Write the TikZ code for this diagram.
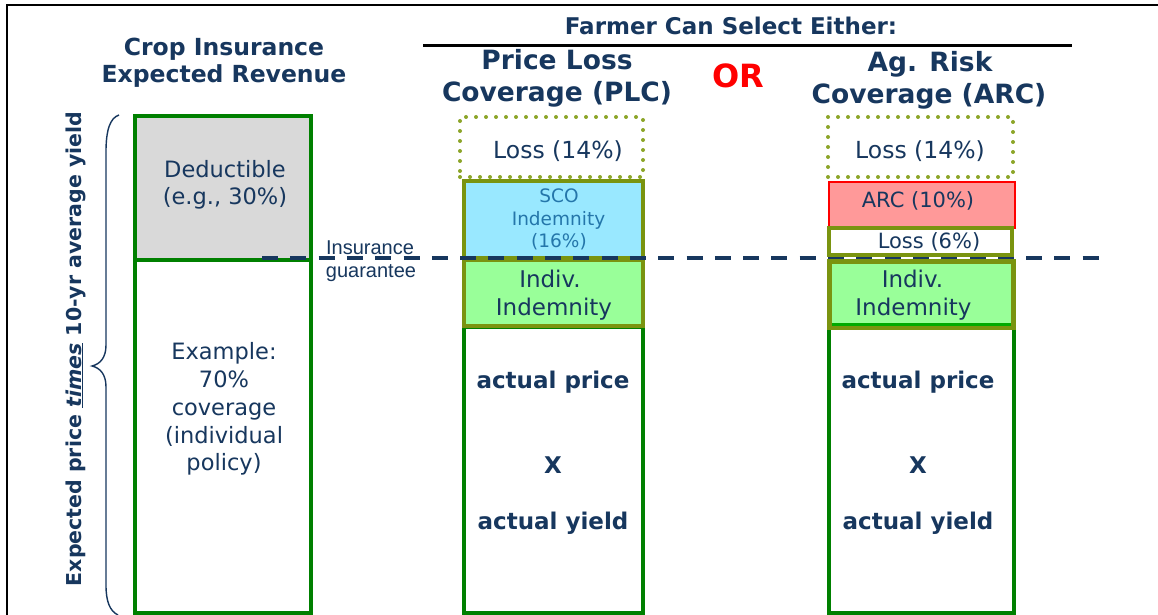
\documentclass[tikz,border=0pt]{standalone}
\usepackage{fontspec}
\setmainfont{DejaVu Sans}
\newfontfamily\arialf{Liberation Sans}
\newcommand\myfs[1]{\fontsize{#1}{#1}\selectfont}
\definecolor{dkblue}{RGB}{23,55,94}
\definecolor{boxgreen}{RGB}{0,128,0}
\definecolor{olivec}{RGB}{122,148,16}
\definecolor{dotc}{RGB}{140,165,40}
\definecolor{scofill}{RGB}{153,232,255}
\definecolor{scotext}{RGB}{36,118,170}
\definecolor{indivfill}{RGB}{153,255,153}
\definecolor{arcfill}{RGB}{255,153,153}
\definecolor{grayfill}{RGB}{217,217,217}
\definecolor{brightgreen}{RGB}{0,170,0}
\begin{document}
\begin{tikzpicture}[x=1pt,y=-1pt,
  txt/.style={text=dkblue, inner sep=0pt, anchor=base},
  boxbase/.style={rectangle, inner sep=0pt, outer sep=0pt, anchor=north west},
  greenbox/.style={boxbase, draw=boxgreen, line width=3.5pt},
  dotbox/.style={boxbase, draw=dotc, line width=4pt, line cap=round, dash pattern=on 0pt off 10pt},
  olivebox/.style={boxbase, draw=olivec, line width=4pt},
  wh/.style 2 args={minimum width=#1, minimum height=#2},
]
\useasboundingbox (0,0) rectangle (1158,615);
\fill[white] (0,0) rectangle (1158,615);
% frame
\coordinate (fTL) at (7,5);
\coordinate (fTR) at (1158,5);
\coordinate (fBL) at (7,615);
\draw[black, line width=2.5pt] (fBL) -- (fTL) -- (fTR);

% titles
\node[txt, font=\myfs{23.5}\bfseries] (ci1) at (224,56) {Crop Insurance};
\node[txt, font=\myfs{23.5}\bfseries] (ci2) at (224,83) {Expected Revenue};
\node[txt, font=\myfs{23}\bfseries] (far) at (731,35) {Farmer Can Select Either:};
\coordinate (ulA) at (423,45.5);
\coordinate (ulB) at (1072,45.5);
\draw[black, line width=2.5pt] (ulA) -- (ulB);
\node[txt, font=\myfs{26.5}\bfseries] (plc1) at (557,70) {Price Loss};
\node[txt, font=\myfs{26.5}\bfseries] (plc2) at (557,102) {Coverage (PLC)};
\node[txt, font=\myfs{32}\bfseries, text=red] (or) at (738,88) {OR};
\node[txt, font=\myfs{26.5}\bfseries] (arc1) at (930,72) {Ag. Risk};
\node[txt, font=\myfs{26.5}\bfseries] (arc2) at (929,104) {Coverage (ARC)};

% brace and rotated label
\draw[dkblue, line width=1.4pt] (119,115) .. controls (110,118) and (106,130) .. (106,152)
  -- (106,345) .. controls (106,358) and (100,364) .. (92,366)
  .. controls (100,368) and (106,374) .. (106,387)
  -- (106,585) .. controls (106,602) and (110,611) .. (118,615);
\node[txt, font=\myfs{20.5}\bfseries, rotate=90] (ylab) at (81,349)
  {Expected price \underline{\textit{times}} 10-yr average yield};

% left column
\node[greenbox, fill=grayfill, wh={176pt}{143.5pt}] (ded) at (135,116) {};
\node[greenbox, line width=4pt, wh={176pt}{353.5pt}] (cov) at (135,259.5) {};
\node[txt, font=\myfs{22.5}] (d1) at (225,177) {Deductible};
\node[txt, font=\myfs{22.5}] (d2) at (225,204) {(e.g., 30\%)};
\node[txt, font=\myfs{22.5}] (e1) at (224,359) {Example:};
\node[txt, font=\myfs{22.5}] (e2) at (224,387) {70\%};
\node[txt, font=\myfs{22.5}] (e3) at (224,415) {coverage};
\node[txt, font=\myfs{22.5}] (e4) at (224,443) {(individual};
\node[txt, font=\myfs{22.5}] (e5) at (224,470) {policy)};
\node[txt, font=\arialf\myfs{20}] (ig1) at (370,254) {Insurance};
\node[txt, font=\arialf\myfs{20}] (ig2) at (371,277) {guarantee};

% PLC column
\node[greenbox, wh={179pt}{286pt}] (plclow) at (464,327) {};
\node[dotbox, wh={183pt}{60pt}] (plcloss) at (460,117) {};
\node[olivebox, fill=scofill, wh={179pt}{77pt}] (sco) at (464,181) {};
\node[olivebox, fill=indivfill, wh={179pt}{66pt}] (plcind) at (464,260) {};
\node[txt, font=\myfs{23.5}] (pl1) at (558,158) {Loss (14\%)};
\node[txt, font=\myfs{18.5}, text=scotext] (s1) at (559,202) {SCO};
\node[txt, font=\myfs{18.5}, text=scotext] (s2) at (558.5,225) {Indemnity};
\node[txt, font=\myfs{18.5}, text=scotext] (s3) at (559,247) {(16\%)};
\node[txt, font=\myfs{23}] (pi1) at (550,287) {Indiv.};
\node[txt, font=\myfs{23}] (pi2) at (554,315) {Indemnity};
\node[txt, font=\myfs{23}\bfseries] (pa1) at (553,388) {actual price};
\node[txt, font=\myfs{23}\bfseries] (pa2) at (553,473) {X};
\node[txt, font=\myfs{23}\bfseries] (pa3) at (553,529) {actual yield};

% guarantee dashed line
\coordinate (dA) at (262,258);
\coordinate (dB) at (1100,258);
\draw[dkblue, line width=3.5pt, dash pattern=on 16pt off 12.3pt] (dA) -- (dB);

% ARC column
\node[greenbox, wh={185pt}{286pt}] (arclow) at (829,327) {};
\node[dotbox, wh={185pt}{60pt}] (arcloss) at (828,117) {};
\node[boxbase, draw=red, line width=2pt, fill=arcfill, wh={186pt}{46pt}] (arcbox) at (829,182) {};
\node[olivebox, fill=white, wh={183pt}{27pt}] (loss6) at (829,228) {};
\node[olivebox, line width=5pt, fill=indivfill, wh={184pt}{66pt}] (arcind) at (829.5,261.5) {};
\coordinate (gA) at (832,324.5);
\coordinate (gB) at (1011,324.5);
\draw[brightgreen, line width=3pt] (gA) -- (gB);
\node[txt, font=\myfs{23.5}] (al1) at (920,158) {Loss (14\%)};
\node[txt, font=\myfs{21}] (ar1) at (918,207) {ARC (10\%)};
\node[txt, font=\myfs{21}] (l6) at (929,248) {Loss (6\%)};
\node[txt, font=\myfs{23}] (ai1) at (912.5,287) {Indiv.};
\node[txt, font=\myfs{23}] (ai2) at (913.5,315) {Indemnity};
\node[txt, font=\myfs{23}\bfseries] (aa1) at (918,388) {actual price};
\node[txt, font=\myfs{23}\bfseries] (aa2) at (918,473) {X};
\node[txt, font=\myfs{23}\bfseries] (aa3) at (918,529) {actual yield};
\end{tikzpicture}
\end{document}
